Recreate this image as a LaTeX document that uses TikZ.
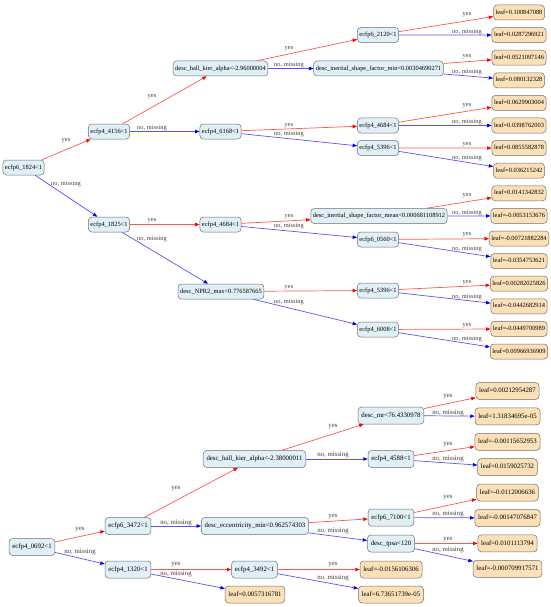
\documentclass[tikz,border=0pt]{standalone}
\usepackage{fontspec}
\setmainfont{Liberation Serif}
\usetikzlibrary{arrows.meta}
\definecolor{splitblue}{RGB}{224,240,246}
\definecolor{leaforange}{RGB}{252,225,184}
\definecolor{boxline}{RGB}{110,110,110}
\definecolor{yesred}{RGB}{255,85,85}
\definecolor{noblue}{RGB}{85,85,255}

\begin{document}
\begin{tikzpicture}[x=1pt,y=-1pt,
  split/.style={draw=boxline,fill=splitblue,rounded corners=3.5pt,line width=0.5pt,
    inner xsep=2.1pt,inner ysep=0pt,minimum height=15pt,text height=4.6pt,text depth=1.3pt,
    font=\fontsize{6.4}{7}\selectfont},
  leaf/.style={split,fill=leaforange},
  splitb/.style={split,inner xsep=3.3pt,minimum height=17pt,text height=4.9pt,text depth=1.4pt,
    font=\fontsize{6.8}{7.5}\selectfont},
  leafb/.style={splitb,fill=leaforange},
  yesedge/.style={draw=yesred,line width=0.7pt,-{Triangle[length=4.5pt,width=3.4pt,color=red]}},
  noedge/.style={draw=noblue,line width=0.7pt,-{Triangle[length=4.5pt,width=3.4pt,color=blue]}},
  elab/.style={inner sep=0pt,text=black!75,font=\fontsize{6.4}{7}\selectfont},
  elabb/.style={elab,font=\fontsize{6.8}{7.5}\selectfont}]
\useasboundingbox (0,0) rectangle (550,607);

\node[split] (t1824) at (23.5,167.5) {ecfp6\_1824<1};
\node[split] (t4156) at (109,131.5) {ecfp4\_4156<1};
\node[split] (t1825) at (109,224.5) {ecfp4\_1825<1};
\node[split] (thka) at (220.5,68.5) {desc\_hall\_kier\_alpha<-2.96000004};
\node[split] (t6168) at (220.5,131.5) {ecfp4\_6168<1};
\node[split] (t4684b) at (220.5,224.5) {ecfp4\_4684<1};
\node[split] (tnpr) at (221,291.5) {desc\_NPR2\_max<0.776587665};
\node[split] (t2120) at (378,35) {ecfp6\_2120<1};
\node[split] (tismin) at (378.5,68.5) {desc\_inertial\_shape\_factor\_min<0.00304690271};
\node[split] (t4684a) at (378,125.5) {ecfp4\_4684<1};
\node[split] (t5396a) at (378,148) {ecfp4\_5396<1};
\node[split] (tismean) at (379,216) {desc\_inertial\_shape\_factor\_mean<0.000681108912};
\node[split] (t0560) at (378,239.5) {ecfp6\_0560<1};
\node[split] (t5396b) at (378,290.5) {ecfp4\_5396<1};
\node[split] (t6008) at (378,329.5) {ecfp4\_6008<1};

\node[leaf] (tl1) at (519,12.5) {leaf=0.100847088};
\node[leaf] (tl2) at (519,35.1) {leaf=0.0287296921};
\node[leaf] (tl3) at (519,57.7) {leaf=0.0521097146};
\node[leaf] (tl4) at (519,80.3) {leaf=0.080132328};
\node[leaf] (tl5) at (519,102.9) {leaf=0.0629903004};
\node[leaf] (tl6) at (519,125.5) {leaf=0.0398762003};
\node[leaf] (tl7) at (519,148.1) {leaf=0.0855582878};
\node[leaf] (tl8) at (519,170.7) {leaf=0.036215242};
\node[leaf] (tl9) at (519,193.3) {leaf=0.0141342832};
\node[leaf] (tl10) at (519,215.9) {leaf=-0.0053153676};
\node[leaf] (tl11) at (519,238.5) {leaf=-0.00721882284};
\node[leaf] (tl12) at (519,261.1) {leaf=-0.0354753621};
\node[leaf] (tl13) at (519,283.7) {leaf=0.00282025826};
\node[leaf] (tl14) at (519,306.3) {leaf=-0.0442682914};
\node[leaf] (tl15) at (519,328.9) {leaf=-0.0449700989};
\node[leaf] (tl16) at (519,351.5) {leaf=0.00966936909};

\draw[yesedge] (t1824) -- (t4156) node[elab] (ta1) at (66,141) {yes};
\draw[noedge] (t1824) -- (t1825) node[elab] (ta2) at (66,184) {no, missing};
\draw[yesedge] (t4156) -- (thka) node[elab] (ta3) at (152,97) {yes};
\draw[noedge] (t4156) -- (t6168) node[elab] (ta4) at (152,128) {no, missing};
\draw[yesedge] (t1825) -- (t4684b) node[elab] (ta5) at (152,221) {yes};
\draw[noedge] (t1825) -- (tnpr) node[elab] (ta6) at (152,239) {no, missing};
\draw[yesedge] (thka) -- (t2120) node[elab] (ta7) at (289,49) {yes};
\draw[noedge] (thka) -- (tismin) node[elab] (ta8) at (289,65) {no, missing};
\draw[yesedge] (t6168) -- (t4684a) node[elab] (ta9) at (289,126) {yes};
\draw[noedge] (t6168) -- (t5396a) node[elab] (ta10) at (289,134) {no, missing};
\draw[yesedge] (t4684b) -- (tismean) node[elab] (ta11) at (289,217) {yes};
\draw[noedge] (t4684b) -- (t0560) node[elab] (ta12) at (289,226) {no, missing};
\draw[yesedge] (tnpr) -- (t5396b) node[elab] (ta13) at (289,288) {yes};
\draw[noedge] (tnpr) -- (t6008) node[elab] (ta14) at (289,302) {no, missing};
\draw[yesedge] (t2120) -- (tl1) node[elab] (ta15) at (467,15) {yes};
\draw[noedge] (t2120) -- (tl2) node[elab] (ta16) at (467,32) {no, missing};
\draw[yesedge] (tismin) -- (tl3) node[elab] (ta17) at (467,57) {yes};
\draw[noedge] (tismin) -- (tl4) node[elab] (ta18) at (467,72) {no, missing};
\draw[yesedge] (t4684a) -- (tl5) node[elab] (ta19) at (467,106) {yes};
\draw[noedge] (t4684a) -- (tl6) node[elab] (ta20) at (467,122) {no, missing};
\draw[yesedge] (t5396a) -- (tl7) node[elab] (ta21) at (467,145) {yes};
\draw[noedge] (t5396a) -- (tl8) node[elab] (ta22) at (467,158) {no, missing};
\draw[yesedge] (tismean) -- (tl9) node[elab] (ta23) at (467,196) {yes};
\draw[noedge] (tismean) -- (tl10) node[elab] (ta24) at (467,213) {no, missing};
\draw[yesedge] (t0560) -- (tl11) node[elab] (ta25) at (467,235) {yes};
\draw[noedge] (t0560) -- (tl12) node[elab] (ta26) at (467,249) {no, missing};
\draw[yesedge] (t5396b) -- (tl13) node[elab] (ta27) at (467,283) {yes};
\draw[noedge] (t5396b) -- (tl14) node[elab] (ta28) at (467,297) {no, missing};
\draw[yesedge] (t6008) -- (tl15) node[elab] (ta29) at (467,326) {yes};
\draw[noedge] (t6008) -- (tl16) node[elab] (ta30) at (467,339) {no, missing};

\node[splitb] (b0692) at (32,547) {ecfp4\_0692<1};
\node[splitb] (b3472) at (128,526) {ecfp6\_3472<1};
\node[splitb] (b1320) at (128,569.5) {ecfp4\_1320<1};
\node[splitb] (bhka) at (254.5,459) {desc\_hall\_kier\_alpha<-2.38000011};
\node[splitb] (becc) at (255,526) {desc\_eccentricity\_min<0.962574303};
\node[splitb] (b3492) at (254.5,569.5) {ecfp4\_3492<1};
\node[leafb] (bl9) at (255,594.5) {leaf=0.0057316781};
\node[splitb] (bmr) at (391,415.5) {desc\_mr<76.4330978};
\node[splitb] (b4588) at (391,459) {ecfp4\_4588<1};
\node[splitb] (b7100) at (391,517.5) {ecfp6\_7100<1};
\node[splitb] (btpsa) at (391,543.5) {desc\_tpsa<120};
\node[leafb] (bl10) at (391,569.5) {leaf=-0.0156106306};
\node[leafb] (bl11) at (391,594.5) {leaf=6.73651739e-05};

\node[leafb] (bl1) at (507.5,391) {leaf=0.00212954287};
\node[leafb] (bl2) at (507.5,416.4) {leaf=1.31834695e-05};
\node[leafb] (bl3) at (507.5,441.8) {leaf=-0.00115652953};
\node[leafb] (bl4) at (507.5,467.2) {leaf=0.0159025732};
\node[leafb] (bl5) at (507.5,492.6) {leaf=-0.0112006636};
\node[leafb] (bl6) at (507.5,518) {leaf=-0.00147076847};
\node[leafb] (bl7) at (507.5,543.4) {leaf=0.0101113794};
\node[leafb] (bl8) at (507.5,568.8) {leaf=-0.000709917571};

\draw[yesedge] (b0692) -- (b3472) node[elabb] (ba1) at (80,530) {yes};
\draw[noedge] (b0692) -- (b1320) node[elabb] (ba2) at (80,552) {no, missing};
\draw[yesedge] (b3472) -- (bhka) node[elabb] (ba3) at (176,489) {yes};
\draw[noedge] (b3472) -- (becc) node[elabb] (ba4) at (176,523) {no, missing};
\draw[yesedge] (b1320) -- (b3492) node[elabb] (ba5) at (176,565) {yes};
\draw[noedge] (b1320) -- (bl9) node[elabb] (ba6) at (176,574) {no, missing};
\draw[yesedge] (bhka) -- (bmr) node[elabb] (ba7) at (333,427) {yes};
\draw[noedge] (bhka) -- (b4588) node[elabb] (ba8) at (333,455) {no, missing};
\draw[yesedge] (becc) -- (b7100) node[elabb] (ba9) at (333,517) {yes};
\draw[noedge] (becc) -- (btpsa) node[elabb] (ba10) at (333,531) {no, missing};
\draw[yesedge] (b3492) -- (bl10) node[elabb] (ba11) at (333,565) {yes};
\draw[noedge] (b3492) -- (bl11) node[elabb] (ba12) at (333,578) {no, missing};
\draw[yesedge] (bmr) -- (bl1) node[elabb] (ba13) at (448,397) {yes};
\draw[noedge] (bmr) -- (bl2) node[elabb] (ba14) at (448,413) {no, missing};
\draw[yesedge] (b4588) -- (bl3) node[elabb] (ba15) at (448,445) {yes};
\draw[noedge] (b4588) -- (bl4) node[elabb] (ba16) at (448,459) {no, missing};
\draw[yesedge] (b7100) -- (bl5) node[elabb] (ba17) at (448,498) {yes};
\draw[noedge] (b7100) -- (bl6) node[elabb] (ba18) at (448,514) {no, missing};
\draw[yesedge] (btpsa) -- (bl7) node[elabb] (ba19) at (448,540) {yes};
\draw[noedge] (btpsa) -- (bl8) node[elabb] (ba20) at (448,550) {no, missing};
\end{tikzpicture}
\end{document}
